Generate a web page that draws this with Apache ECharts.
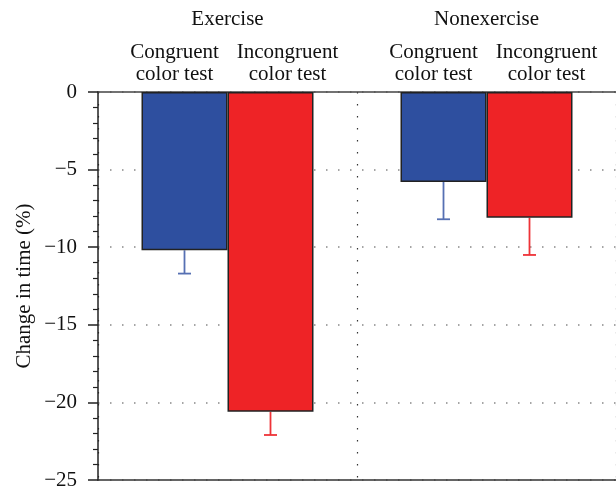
<!DOCTYPE html>
<html>
<head>
<meta charset="utf-8">
<script src="https://cdn.jsdelivr.net/npm/echarts@6/dist/echarts.min.js"></script>
<style>
  html, body { margin: 0; padding: 0; background: #fff; }
  #chart { width: 616px; height: 487px; }
</style>
</head>
<body>
<div id="chart"></div>
<script>
var groups = ['Exercise', 'Nonexercise'];
var testNames = ['Congruent', 'Incongruent'];
var congruentMean = [-10.2, -5.8];
var congruentErr = [-11.7, -8.2];
var incongruentMean = [-20.6, -8.1];
var incongruentErr = [-22.1, -10.5];

var serif = '"Liberation Serif", "DejaVu Serif", serif';
var barW = 86;

function errorSeries(name, means, lows, color, offset) {
  var data = means.map(function (m, i) { return [i, m, lows[i]]; });
  return {
    name: name,
    type: 'custom',
    xAxisIndex: 0,
    data: data,
    z: 1,
    renderItem: function (params, api) {
      var top = api.coord([api.value(0), api.value(1)]);
      var bot = api.coord([api.value(0), api.value(2)]);
      var x = top[0] + offset;
      return {
        type: 'group',
        children: [
          { type: 'line', shape: { x1: x, y1: top[1], x2: x, y2: bot[1] },
            style: { stroke: color, lineWidth: 1.8 } },
          { type: 'line', shape: { x1: x - 6.5, y1: bot[1], x2: x + 6.5, y2: bot[1] },
            style: { stroke: color, lineWidth: 1.8 } }
        ]
      };
    }
  };
}

var option = {
  animation: false,
  backgroundColor: '#fff',
  textStyle: { fontFamily: serif },
  grid: { left: 98, right: 0, top: 92, bottom: 7, outerBoundsMode: 'none', containLabel: false },
  xAxis: [
    {
      type: 'category',
      data: groups,
      position: 'top',
      axisLine: { onZero: false, lineStyle: { color: '#444', width: 1.5 } },
      axisTick: { show: false },
      splitLine: { show: true, lineStyle: { color: '#333', width: 1.2, type: [1.5, 10.5] } },
      axisLabel: {
        margin: 7,
        color: '#111',
        fontFamily: serif,
        formatter: function (v) {
          return '{t|' + v + '}\n{l|' + testNames[0] + '}{r|' + testNames[1] + '}\n{l|color test}{r|color test}';
        },
        rich: {
          t: { fontSize: 21, lineHeight: 44, fontFamily: serif, color: '#111', align: 'center' },
          l: { fontSize: 21, lineHeight: 22, width: 120, align: 'center', fontFamily: serif, color: '#111' },
          r: { fontSize: 21, lineHeight: 22, width: 106, align: 'center', fontFamily: serif, color: '#111' }
        }
      }
    },
    {
      type: 'category',
      data: groups,
      position: 'bottom',
      axisLine: { onZero: false, lineStyle: { color: '#333', width: 1.5 } },
      axisTick: { show: false },
      axisLabel: { show: false },
      splitLine: { show: false }
    }
  ],
  yAxis: {
    type: 'value',
    min: -25,
    max: 0,
    interval: 5,
    name: 'Change in time (%)',
    nameLocation: 'middle',
    nameGap: 63,
    nameMoveOverlap: false,
    nameTextStyle: { fontSize: 21, fontFamily: serif, color: '#111' },
    axisLine: { show: true, lineStyle: { color: '#222', width: 1.5 } },
    axisTick: { show: true, length: 10, lineStyle: { color: '#222', width: 1.5 } },
    minorTick: { show: true, splitNumber: 5, length: 5, lineStyle: { color: '#222', width: 1.2 } },
    splitLine: { show: true, lineStyle: { color: '#888', width: 1.5, type: [1.5, 10.5] } },
    axisLabel: {
      margin: 21,
      fontSize: 21,
      color: '#111',
      fontFamily: serif,
      formatter: function (v) { return String(v).replace('-', '\u2212'); }
    }
  },
  series: [
    {
      name: 'Congruent color test',
      type: 'bar',
      xAxisIndex: 0,
      data: congruentMean,
      barWidth: barW,
      barGap: '0%',
      z: 2,
      itemStyle: { color: '#2e4f9f', borderColor: '#222', borderWidth: 1.5 }
    },
    {
      name: 'Incongruent color test',
      type: 'bar',
      xAxisIndex: 0,
      data: incongruentMean,
      barWidth: barW,
      barGap: '0%',
      z: 2,
      itemStyle: { color: '#ee2326', borderColor: '#222', borderWidth: 1.5 }
    },
    errorSeries('Congruent error', congruentMean, congruentErr, '#5670b3', -barW / 2),
    errorSeries('Incongruent error', incongruentMean, incongruentErr, '#ee3338', barW / 2)
  ]
};

var myChart = echarts.init(document.getElementById('chart'));
myChart.setOption(option, true);
</script>
</body>
</html>
